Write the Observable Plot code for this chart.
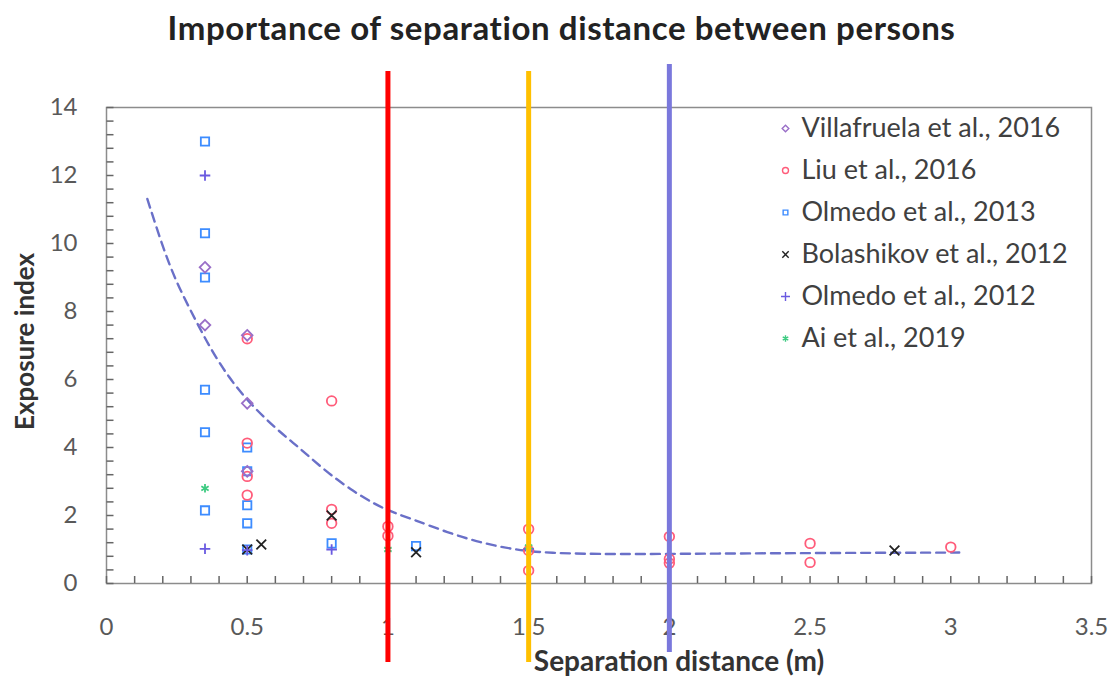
<!DOCTYPE html>
<html><head><meta charset="utf-8">
<script src="https://cdn.jsdelivr.net/npm/d3@7"></script>
<script src="https://cdn.jsdelivr.net/npm/@observablehq/plot@0.6"></script>
<style>
body{margin:0;background:#fff;font-family:Lato,sans-serif;}
#title{height:50px;line-height:54px;text-align:center;font-size:33px;letter-spacing:0.6px;font-weight:bold;color:#222;padding-left:12px;box-sizing:border-box;white-space:nowrap;}
</style></head><body>
<div id="title">Importance of separation distance between persons</div>
<div id="chart"></div>
<script>
// ---- data ----
const seriesNames = ["Villafruela et al., 2016","Liu et al., 2016","Olmedo et al., 2013","Bolashikov et al., 2012","Olmedo et al., 2012","Ai et al., 2019"];
const villafruela = [[0.35,9.3],[0.35,7.6],[0.5,7.3],[0.5,5.3],[0.5,3.3]];
const liu = [[0.5,7.2],[0.5,4.13],[0.5,3.15],[0.5,2.6],[0.8,5.37],[0.8,2.18],[0.8,1.77],[1.0,1.68],[1.0,1.4],[1.5,1.6],[1.5,0.97],[1.5,0.38],[2.0,1.38],[2.0,0.72],[2.0,0.6],[2.5,1.18],[2.5,0.62],[3.0,1.07]];
const olmedo2013 = [[0.35,13.0],[0.35,10.3],[0.35,9.0],[0.35,5.7],[0.35,4.45],[0.35,2.15],[0.5,4.0],[0.5,3.3],[0.5,2.3],[0.5,1.77],[0.5,1.0],[0.8,1.18],[1.1,1.1]];
const bolashikov = [[0.5,1.0],[0.55,1.15],[0.8,2.0],[1.1,0.92],[2.8,0.97]];
const olmedo2012 = [[0.35,12.0],[0.35,1.02],[0.5,0.98],[0.8,1.0],[1.5,1.02]];
const ai = [[0.35,2.8],[1.0,1.0],[1.5,1.08]];
const trend = [[0.145,11.31],[0.204,9.79],[0.251,8.81],[0.316,7.75],[0.37,6.9],[0.435,6.05],[0.506,5.33],[0.595,4.6],[0.684,4.0],[0.772,3.35],[0.867,2.76],[0.962,2.29],[1.021,2.08],[1.091,1.88],[1.212,1.5],[1.329,1.2],[1.446,1.0],[1.567,0.89],[1.8,0.86],[2.16,0.88],[2.6,0.9],[3.03,0.91]];
const thresholds = [1.0, 1.5, 2.0];
const thresholdColors = ["#ff0000","#ffc000","#7a78dc"];
const xTicks = [0,0.5,1,1.5,2,2.5,3,3.5];
const yTicks = [0,2,4,6,8,10,12,14];
const xMinorTicks = d3.range(0, 3.5001, 0.1);
const yMinorTicks = d3.range(0, 14.001, 0.4);
const xLabel = "Separation distance (m)";
const yLabel = "Exposure index";

// ---- styles ----
const styles = {
  villafruela: {data: villafruela, symbol:"diamond2", stroke:"#9a6fc8", r:4.8},
  liu: {data: liu, symbol:"circle", stroke:"#ff5c7a", r:4.8},
  olmedo2013: {data: olmedo2013, symbol:"square2", stroke:"#3d8cff", r:5.3},
  bolashikov: {data: bolashikov, symbol:"times", stroke:"#222", r:4.5},
  olmedo2012: {data: olmedo2012, symbol:"plus", stroke:"#6a5ae0", r:3.5},
  ai: {data: ai, symbol:"asterisk", stroke:"#3ecb82", r:4}
};
const drawOrder = ["olmedo2013","liu","villafruela","bolashikov","olmedo2012","ai"];
const legendKeys = ["villafruela","liu","olmedo2013","bolashikov","olmedo2012","ai"];

const W = 1111, H = 628, mT = 57, mB = 95, mL = 106, mR = 20;
const plotH = H - mT - mB;
const hTickSymbol = {draw(ctx){ ctx.moveTo(0,0); ctx.lineTo(7,0); }};

const marks = [
  Plot.frame({stroke:"#8c8c8c", strokeWidth:1.5}),
  Plot.ruleX(xMinorTicks, {x:d=>d, stroke:"#666", strokeWidth:1.5, insetTop: plotH - 7}),
  Plot.dot(yMinorTicks, {y:d=>d, frameAnchor:"left", symbol:hTickSymbol, stroke:"#666", strokeWidth:1.5, fill:"none"}),
  Plot.axisX({ticks: xTicks, tickSize:0, tickPadding:34, fontSize:24, fill:"#595959", tickFormat:d=>String(d), label:null}),
  Plot.axisY({ticks: yTicks, tickSize:0, tickPadding:29, fontSize:24, fill:"#595959", tickFormat:d=>String(d), label:null}),
  Plot.line(trend, {x:d=>d[0], y:d=>d[1], stroke:"#6a70c8", strokeWidth:2.4, strokeDasharray:"9,6", curve:"basis"}),
  ...drawOrder.map(k => { const s = styles[k]; return Plot.dot(s.data, {x:d=>d[0], y:d=>d[1], symbol:s.symbol, stroke:s.stroke, fill:"none", r:s.r, strokeWidth:1.8}); }),
  ...thresholds.map((t,i) => Plot.ruleX([t], {stroke:thresholdColors[i], strokeWidth:5, insetTop: i===2 ? -43 : -36, insetBottom: i===2 ? -69 : -79})),
  ...seriesNames.flatMap((name,i) => { const s = styles[legendKeys[i]]; return [
    Plot.dot([name], {frameAnchor:"top-left", dx:679, dy:21 + i*42, symbol:s.symbol, stroke:s.stroke, fill:"none", r:3, strokeWidth:1.4}),
    Plot.text([name], {text:d=>d, frameAnchor:"top-left", dx:695, dy:21 + i*42, textAnchor:"start", lineAnchor:"middle", fontSize:27, letterSpacing:"0.5px", fill:"#404040"})
  ]; }),
  Plot.text([xLabel], {text:d=>d, frameAnchor:"bottom", textAnchor:"middle", dx:80, dy:79, fontSize:28, letterSpacing:"0.3px", fontWeight:"bold", fill:"#333", lineAnchor:"middle"}),
  Plot.text([yLabel], {text:d=>d, frameAnchor:"left", textAnchor:"middle", dx:-81, dy:-4, rotate:-90, fontSize:26, fontWeight:"bold", fill:"#333"})
];

const chart = Plot.plot({
  width:W, height:H,
  marginTop:mT, marginBottom:mB, marginLeft:mL, marginRight:mR,
  x:{domain:[0,3.5]},
  y:{domain:[0,14]},
  style:{fontFamily:"Lato, sans-serif", background:"white", overflow:"visible"},
  marks
});
document.getElementById("chart").appendChild(chart);
</script>
</body></html>
